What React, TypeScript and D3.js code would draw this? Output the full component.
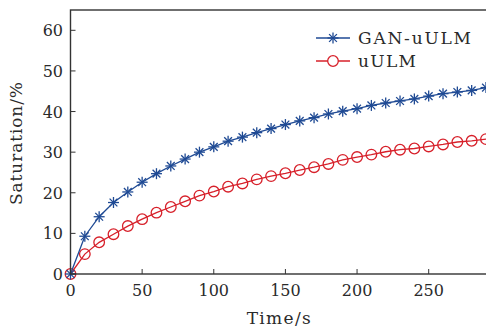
import { useEffect, useRef } from "react";
import * as d3 from "d3";

const times = [
  0, 10, 20, 30, 40, 50, 60, 70, 80, 90, 100, 110, 120, 130, 140, 150, 160,
  170, 180, 190, 200, 210, 220, 230, 240, 250, 260, 270, 280, 290,
];
const ganUlm = [
  0, 9.3, 14.1, 17.6, 20.2, 22.6, 24.7, 26.6, 28.3, 30.0, 31.3, 32.7, 33.7,
  34.8, 35.8, 36.8, 37.7, 38.5, 39.4, 40.1, 40.7, 41.5, 42.1, 42.6, 43.1, 43.8,
  44.4, 44.8, 45.2, 45.9,
];
const uUlm = [
  0, 4.9, 7.8, 9.8, 11.8, 13.5, 15.1, 16.5, 17.9, 19.3, 20.3, 21.5, 22.3, 23.3,
  24.1, 24.8, 25.6, 26.3, 27.1, 28.1, 28.8, 29.4, 30.1, 30.6, 30.9, 31.4, 31.9,
  32.5, 32.8, 33.2,
];
const xTicks = [0, 50, 100, 150, 200, 250];
const yTicks = [0, 10, 20, 30, 40, 50, 60];
const seriesNames = ["GAN-uULM", "uULM"];

const BLUE = "#1f4a94";
const RED = "#d7202a";
const FONT = "DejaVu Serif";
const INK = "#2a2a2a";

export default function App() {
  const svgRef = useRef<SVGSVGElement | null>(null);

  useEffect(() => {
    const width = 486;
    const height = 329;
    const margin = { top: 10, right: 0, bottom: 55, left: 70.5 };

    const x = d3
      .scaleLinear()
      .domain([0, 290])
      .range([margin.left, width - margin.right]);
    const y = d3
      .scaleLinear()
      .domain([0, 65])
      .range([height - margin.bottom, margin.top]);

    const svg = d3
      .select(svgRef.current)
      .attr("width", width)
      .attr("height", height)
      .html("");

    svg
      .append("rect")
      .attr("width", width)
      .attr("height", height)
      .attr("fill", "white");

    const star = (g: d3.Selection<SVGGElement, unknown, null, undefined>, r: number) => {
      for (let a = 0; a < 4; a++) {
        const ang = (a * Math.PI) / 4;
        g.append("line")
          .attr("x1", -r * Math.sin(ang))
          .attr("y1", -r * Math.cos(ang))
          .attr("x2", r * Math.sin(ang))
          .attr("y2", r * Math.cos(ang))
          .attr("stroke", BLUE)
          .attr("stroke-width", 1.3);
      }
    };

    const line = d3
      .line<number>()
      .x((_, i) => x(times[i]))
      .y((d) => y(d));

    const plot = svg.append("g");

    // uULM series
    plot
      .append("path")
      .attr("d", line(uUlm))
      .attr("fill", "none")
      .attr("stroke", RED)
      .attr("stroke-width", 1.3);
    plot
      .selectAll("circle.u")
      .data(uUlm)
      .join("circle")
      .attr("class", "u")
      .attr("cx", (_, i) => x(times[i]))
      .attr("cy", (d) => y(d))
      .attr("r", 5.3)
      .attr("fill", "none")
      .attr("stroke", RED)
      .attr("stroke-width", 1.3);

    // GAN-uULM series
    plot
      .append("path")
      .attr("d", line(ganUlm))
      .attr("fill", "none")
      .attr("stroke", BLUE)
      .attr("stroke-width", 1.3);
    plot
      .selectAll<SVGGElement, number>("g.s")
      .data(ganUlm)
      .join("g")
      .attr("class", "s")
      .attr("transform", (d, i) => `translate(${x(times[i])},${y(d)})`)
      .each(function () {
        star(d3.select(this), 5.5);
      });

    // axes
    const axis = svg.append("g").attr("stroke", "#333").attr("stroke-width", 1.4);
    axis
      .append("rect")
      .attr("x", margin.left)
      .attr("y", margin.top)
      .attr("width", width - margin.left + 2)
      .attr("height", height - margin.bottom - margin.top)
      .attr("fill", "none");

    axis
      .selectAll("line.xt")
      .data(xTicks)
      .join("line")
      .attr("class", "xt")
      .attr("x1", (d) => x(d))
      .attr("x2", (d) => x(d))
      .attr("y1", y(0))
      .attr("y2", y(0) - 5)
      .attr("stroke-width", 1);
    axis
      .selectAll("line.yt")
      .data(yTicks)
      .join("line")
      .attr("class", "yt")
      .attr("y1", (d) => y(d))
      .attr("y2", (d) => y(d))
      .attr("x1", margin.left)
      .attr("x2", margin.left + 5)
      .attr("stroke-width", 1);

    svg
      .append("g")
      .selectAll("text")
      .data(xTicks)
      .join("text")
      .attr("x", (d) => x(d))
      .attr("y", 296)
      .attr("text-anchor", "middle")
      .attr("font-family", FONT)
      .attr("font-size", 16)
      .attr("fill", INK)
      .text((d) => d);

    svg
      .append("g")
      .selectAll("text")
      .data(yTicks)
      .join("text")
      .attr("x", 63)
      .attr("y", (d) => y(d) + 6)
      .attr("text-anchor", "end")
      .attr("font-family", FONT)
      .attr("font-size", 16)
      .attr("fill", INK)
      .text((d) => d);

    svg
      .append("text")
      .attr("x", 278.7)
      .attr("y", 324)
      .attr("text-anchor", "middle")
      .attr("font-family", FONT)
      .attr("font-size", 17)
      .attr("fill", INK)
      .attr("textLength", 64)
      .attr("lengthAdjust", "spacing")
      .text("Time/s");

    svg
      .append("text")
      .attr("transform", `translate(22,143.5) rotate(-90)`)
      .attr("text-anchor", "middle")
      .attr("font-family", FONT)
      .attr("font-size", 17)
      .attr("fill", INK)
      .attr("textLength", 123)
      .attr("lengthAdjust", "spacing")
      .text("Saturation/%");

    // legend
    const legendWidths = [113, 58];
    const legend = svg.append("g");
    seriesNames.forEach((name, i) => {
      const ly = 38 + i * 23;
      const color = i === 0 ? BLUE : RED;
      legend
        .append("line")
        .attr("x1", 316)
        .attr("x2", 350)
        .attr("y1", ly)
        .attr("y2", ly)
        .attr("stroke", color)
        .attr("stroke-width", 1.3);
      if (i === 0) {
        star(legend.append("g").attr("transform", `translate(333,${ly})`), 5.5);
      } else {
        legend
          .append("circle")
          .attr("cx", 333)
          .attr("cy", ly)
          .attr("r", 5.3)
          .attr("fill", "white")
          .attr("stroke", color)
          .attr("stroke-width", 1.3);
      }
      legend
        .append("text")
        .attr("x", 358)
        .attr("y", ly + 6)
        .attr("font-family", FONT)
        .attr("font-size", 17)
        .attr("fill", INK)
        .attr("textLength", legendWidths[i])
        .attr("lengthAdjust", "spacing")
        .text(name);
    });
  }, []);

  return (
    <div style={{ position: "fixed", left: 0, top: 0 }}>
      <svg ref={svgRef} style={{ display: "block" }}></svg>
    </div>
  );
}
